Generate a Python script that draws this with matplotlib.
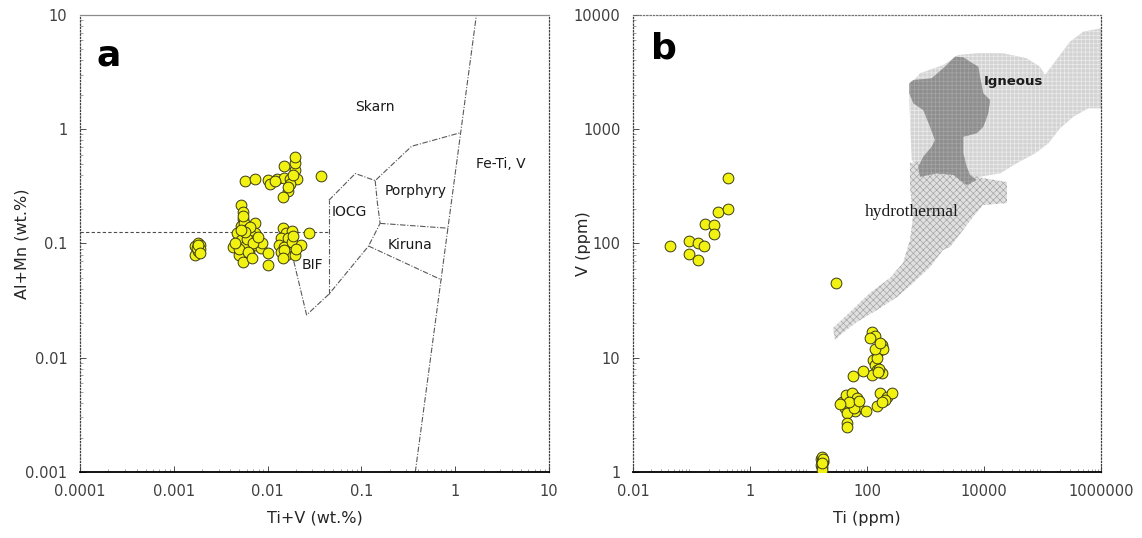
import matplotlib
matplotlib.use("Agg")
import matplotlib.pyplot as plt
from matplotlib.ticker import LogLocator, NullFormatter

# ---------------- panel a : Ti+V vs Al+Mn (wt.%) ----------------
a_ti_v = [0.0017, 0.0018, 0.0019, 0.0017, 0.0018, 0.0019, 0.00175, 0.0018, 0.0019,
          0.00516, 0.0054, 0.0054, 0.00516, 0.0056, 0.0074, 0.0062, 0.0047, 0.0074, 0.0068,
          0.0052, 0.0074, 0.0043, 0.0056, 0.0074, 0.0084, 0.0049, 0.0064, 0.0054, 0.0088,
          0.0101, 0.0101, 0.006, 0.0065, 0.0058, 0.007, 0.005, 0.0062, 0.0045, 0.0078,
          0.0052, 0.0068, 0.0055,
          0.0144, 0.0158, 0.018, 0.0138, 0.0165, 0.0132, 0.0151, 0.018, 0.0225, 0.0138,
          0.0158, 0.0197, 0.0151, 0.0277, 0.0185, 0.020, 0.0144,
          0.00575, 0.0074, 0.0101, 0.0105, 0.0126, 0.0151, 0.0172, 0.0206, 0.0194, 0.0194,
          0.0194, 0.0151, 0.0172, 0.0165, 0.0145, 0.0368, 0.0185, 0.0165, 0.012]
a_al_mn = [0.095, 0.1, 0.097, 0.08, 0.086, 0.09, 0.092, 0.098, 0.083,
           0.218, 0.187, 0.163, 0.142, 0.152, 0.152, 0.133, 0.124, 0.124, 0.116,
           0.108, 0.108, 0.094, 0.094, 0.097, 0.092, 0.080, 0.082, 0.069, 0.10,
           0.083, 0.065, 0.11, 0.14, 0.125, 0.1, 0.09, 0.085, 0.1, 0.115,
           0.13, 0.075, 0.175,
           0.137, 0.124, 0.129, 0.112, 0.112, 0.098, 0.094, 0.104, 0.098, 0.085,
           0.079, 0.079, 0.088, 0.124, 0.116, 0.089, 0.074,
           0.35, 0.37, 0.36, 0.33, 0.37, 0.375, 0.37, 0.37, 0.44, 0.51,
           0.57, 0.48, 0.33, 0.29, 0.256, 0.39, 0.40, 0.31, 0.35]

# field boundaries
line_bif_x = [0.016, 0.026, 0.045, 0.119, 0.158]
line_bif_y = [0.126, 0.0237, 0.036, 0.095, 0.150]
line_iocg_left_x = [0.045, 0.045]
line_iocg_left_y = [0.036, 0.239]
line_skarn_x = [0.045, 0.086, 0.140, 0.343, 1.12]
line_skarn_y = [0.239, 0.41, 0.355, 0.71, 0.93]
line_iocg_right_x = [0.140, 0.148, 0.158]
line_iocg_right_y = [0.355, 0.225, 0.150]
line_kiruna_top_x = [0.158, 0.845]
line_kiruna_top_y = [0.150, 0.136]
line_kiruna_bot_x = [0.119, 0.716]
line_kiruna_bot_y = [0.095, 0.048]
line_feti_x = [0.375, 1.68]
line_feti_y = [0.001, 10]
line_dash_x = [0.0001, 0.045]
line_dash_y = [0.126, 0.126]

field_names_a = ["Skarn", "Fe-Ti, V", "Porphyry", "IOCG", "Kiruna", "BIF"]
field_x_a = [0.14, 3.05, 0.375, 0.0738, 0.327, 0.030]
field_y_a = [1.57, 0.494, 0.29, 0.19, 0.097, 0.065]

a_xticks = [0.0001, 0.001, 0.01, 0.1, 1, 10]
a_xticklabels = ["0.0001", "0.001", "0.01", "0.1", "1", "10"]
a_yticks = [0.001, 0.01, 0.1, 1, 10]
a_yticklabels = ["0.001", "0.01", "0.1", "1", "10"]

# ---------------- panel b : Ti vs V (ppm) ----------------
b_ti = [0.0436, 0.0914, 0.131, 0.162, 0.0914, 0.131, 0.167, 0.242, 0.242, 0.279, 0.422, 0.428,
        30,
        16.5, 17, 17.5, 16.6, 17.2, 18, 16.8, 17.6, 17,
        120, 137, 112, 178, 167, 146, 190, 128, 137, 146, 178, 120, 86.5, 58.3,
        150, 160, 135, 170, 155,
        40, 45, 50, 55, 60, 65, 48, 52, 58, 62, 42, 38, 44, 56, 67, 70, 46, 54, 60, 50, 35, 72,
        96, 45, 45,
        167, 217, 264, 203, 146, 178]
b_v = [95, 106, 102, 95, 81, 72, 147, 145, 122, 187, 201, 375,
       45,
       1.3, 1.35, 1.22, 1.15, 1.1, 1.25, 1.05, 1.3, 1.2,
       16.9, 15.5, 14.8, 12.9, 11.7, 10.9, 11.9, 9.55, 8.65, 7.82, 7.31, 7.07, 7.7, 6.92,
       10, 8, 12, 13.5, 7.5,
       4.0, 4.3, 4.5, 4.2, 4.6, 4.0, 3.7, 3.5, 3.8, 3.4, 3.6, 4.1, 4.7, 4.9, 4.4, 3.8, 3.3, 4.0,
       3.6, 4.1, 3.9, 4.2,
       3.45, 2.67, 2.5,
       4.89, 4.56, 4.89, 4.27, 3.78, 4.12]

igneous_ti = [543, 805, 2014, 3637, 7499, 21380, 53700, 90600, 110400, 163700, 295000, 498000,
              1e6, 1e6, 607000, 336000, 199000, 125700, 74500, 36200, 18790, 8550, 4430, 2624,
              1194, 708, 581, 528]
igneous_v = [2438, 3090, 3648, 4467, 4624, 4624, 4178, 3525, 2985, 3899, 5839, 7145,
             7655, 1524, 1524, 1288, 1019, 753, 615, 504, 411, 384, 384, 411,
             440, 470, 538, 1803]

igneous_core_ti = [528, 619, 1276, 2154, 3193, 4430, 5768, 7998, 8550, 9730, 12670, 11850,
                   9730, 7499, 4430, 4430, 5058, 5768, 7499, 5058, 2985, 1553, 805, 753,
                   917, 1276, 1452, 1194, 917, 619, 528]
igneous_core_v = [2523, 2698, 2793, 3525, 4315, 4266, 3899, 3525, 2884, 2065, 1803, 1380,
                  1052, 922, 861, 615, 470, 398, 360, 325, 398, 411, 384, 470,
                  575, 703, 805, 1052, 1472, 1687, 2065]

hydro_ti = [543, 1194, 4375, 9616, 24720, 24720, 9616, 6486, 4375, 2624, 1991, 1194, 611,
            326, 148, 67.5, 34.5, 28.4, 26.2, 51.2, 112, 247, 412, 543, 611, 543]
hydro_v = [507, 538, 414, 374, 345, 226, 217, 171, 131, 93, 87.7, 62.2, 45.1,
           34.0, 26.2, 20.6, 15.8, 14.3, 18.2, 25.1, 36.9, 49.9, 67.5, 107, 171, 313]

b_xticks = [0.01, 1, 100, 10000, 1000000]
b_xticklabels = ["0.01", "1", "100", "10000", "1000000"]
b_yticks = [1, 10, 100, 1000, 10000]
b_yticklabels = ["1", "10", "100", "1000", "10000"]

plt.rcParams["hatch.linewidth"] = 0.5

fig = plt.figure(figsize=(11.42, 5.38), dpi=100)
ax_a = fig.add_axes([0.0701, 0.1227, 0.4107, 0.8494])
ax_b = fig.add_axes([0.5543, 0.1227, 0.4098, 0.8494])

marker_kw = dict(s=60, facecolor="#f2f212", edgecolor="#3b3b12", linewidths=0.7, zorder=5)
line_kw = dict(color="0.35", lw=0.8, ls=(0, (5, 1.5, 1, 1.5)), zorder=2)


def style_axes(ax):
    ax.set_xscale("log")
    ax.set_yscale("log")
    ax.spines["bottom"].set_color("black")
    ax.spines["bottom"].set_linewidth(1.3)
    for side in ["left", "right"]:
        ax.spines[side].set_color("0.25")
        ax.spines[side].set_linewidth(0.9)
        ax.spines[side].set_linestyle(":")
    ax.tick_params(which="major", direction="in", length=4, width=0.7, color="0.3",
                   labelsize=10.5, labelcolor="0.25", pad=9)
    ax.tick_params(which="minor", direction="in", length=2.5, width=0.5, color="0.5")
    ax.xaxis.set_minor_locator(LogLocator(base=10, subs=range(2, 10), numticks=40))
    ax.yaxis.set_minor_locator(LogLocator(base=10, subs=range(2, 10), numticks=40))
    ax.xaxis.set_minor_formatter(NullFormatter())
    ax.yaxis.set_minor_formatter(NullFormatter())


# panel a
style_axes(ax_a)
ax_a.spines["top"].set_color("0.55")
ax_a.spines["top"].set_linewidth(0.9)
ax_a.set_xlim(0.0001, 10)
ax_a.set_ylim(0.001, 10)
ax_a.set_xticks(a_xticks, a_xticklabels)
ax_a.set_yticks(a_yticks, a_yticklabels)

for lx, ly in [(line_bif_x, line_bif_y), (line_iocg_left_x, line_iocg_left_y),
               (line_skarn_x, line_skarn_y), (line_iocg_right_x, line_iocg_right_y),
               (line_kiruna_top_x, line_kiruna_top_y), (line_kiruna_bot_x, line_kiruna_bot_y),
               (line_feti_x, line_feti_y)]:
    ax_a.plot(lx, ly, **line_kw)
ax_a.plot(line_dash_x, line_dash_y, color="0.3", lw=0.8, ls=(0, (3, 2)), zorder=2)

for name, fx, fy in zip(field_names_a, field_x_a, field_y_a):
    ax_a.text(fx, fy, name, ha="center", va="center", fontsize=10, color="0.1")

ax_a.scatter(a_ti_v, a_al_mn, **marker_kw)
ax_a.text(0.062, 0.89, "a", transform=ax_a.transAxes, fontsize=26, fontweight="bold",
          ha="center", va="baseline")
ax_a.set_xlabel("Ti+V (wt.%)", fontsize=11.5, color="0.15")
ax_a.set_ylabel("Al+Mn (wt.%)", fontsize=11.5, color="0.15")
ax_a.xaxis.set_label_coords(0.5, -0.085)
ax_a.yaxis.set_label_coords(-0.107, 0.5)

# panel b
style_axes(ax_b)
ax_b.spines["top"].set_color("0.45")
ax_b.spines["top"].set_linewidth(0.9)
ax_b.spines["top"].set_linestyle(":")
ax_b.set_xlim(0.01, 1000000)
ax_b.set_ylim(1, 10000)
ax_b.set_xticks(b_xticks, b_xticklabels)
ax_b.set_yticks(b_yticks, b_yticklabels)

ax_b.fill(igneous_ti, igneous_v, facecolor="#d3d3d3", edgecolor="#ececec", hatch="++++",
          lw=0, zorder=1)
ax_b.fill(hydro_ti, hydro_v, facecolor="#e0e0e0", edgecolor="#a6a6a6", hatch="xxxxx",
          lw=0, zorder=1.5)
ax_b.fill(igneous_core_ti, igneous_core_v, facecolor="#8e8e8e", edgecolor="#a6a6a6",
          hatch="++++", lw=0, zorder=2)
ax_b.text(31700, 2606, "Igneous", ha="center", va="center", fontsize=9.5,
          fontweight="bold", color="0.1", zorder=3)
ax_b.text(581, 190, "hydrothermal", ha="center", va="center", fontsize=12.5,
          family="Liberation Serif", color="0.1", zorder=3)

ax_b.scatter(b_ti, b_v, **marker_kw)
ax_b.text(0.066, 0.905, "b", transform=ax_b.transAxes, fontsize=26, fontweight="bold",
          ha="center", va="baseline")
ax_b.set_xlabel("Ti (ppm)", fontsize=11.5, color="0.15")
ax_b.set_ylabel("V (ppm)", fontsize=11.5, color="0.15")
ax_b.xaxis.set_label_coords(0.5, -0.085)
ax_b.yaxis.set_label_coords(-0.09, 0.5)

fig.savefig("out.png", dpi=100)
